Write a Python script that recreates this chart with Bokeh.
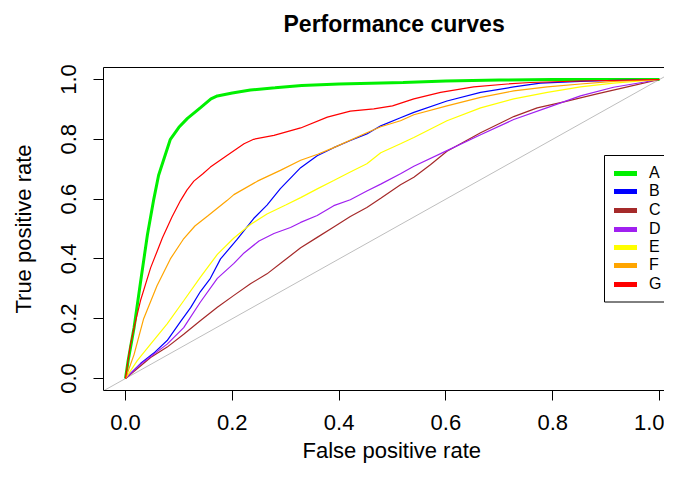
from bokeh.plotting import figure
from bokeh.models import (Range1d, LinearAxis, FixedTicker, Legend, LegendItem, Slope,
                          ColumnDataSource, Title, BoxAnnotation)
from bokeh.embed import file_html
from bokeh.resources import INLINE

# ---- data ----
series_names = ["A", "B", "C", "D", "E", "F", "G"]
series_colors = ["#00F000", "#0000FF", "#A52A2A", "#A020F0", "#FFFF00", "#FFA500", "#FF0000"]

fpr_A = [0, 0.005, 0.01, 0.016, 0.028, 0.041, 0.053, 0.062, 0.073, 0.084, 0.1, 0.116, 0.14, 0.16, 0.172, 0.2, 0.234, 0.28, 0.33, 0.4, 0.52, 0.6, 0.7, 0.8, 1.0]
tpr_A = [0, 0.06, 0.11, 0.17, 0.32, 0.48, 0.60, 0.68, 0.74, 0.80, 0.84, 0.87, 0.905, 0.935, 0.945, 0.955, 0.965, 0.972, 0.98, 0.985, 0.99, 0.995, 0.998, 1.0, 1.0]

fpr_B = [0, 0.028, 0.053, 0.078, 0.103, 0.122, 0.14, 0.159, 0.178, 0.209, 0.24, 0.265, 0.29, 0.328, 0.359, 0.39, 0.42, 0.452, 0.478, 0.515, 0.54, 0.602, 0.665, 0.727, 0.777, 0.852, 0.9, 1.0]
tpr_B = [0, 0.05, 0.085, 0.127, 0.19, 0.237, 0.29, 0.335, 0.40, 0.465, 0.535, 0.58, 0.635, 0.705, 0.745, 0.772, 0.795, 0.818, 0.845, 0.872, 0.89, 0.928, 0.957, 0.975, 0.988, 0.994, 0.996, 1.0]

fpr_C = [0, 0.047, 0.078, 0.109, 0.14, 0.172, 0.203, 0.234, 0.265, 0.296, 0.328, 0.359, 0.39, 0.421, 0.452, 0.478, 0.515, 0.54, 0.571, 0.602, 0.665, 0.727, 0.771, 0.821, 0.883, 0.946, 1.0]
tpr_C = [0, 0.07, 0.105, 0.148, 0.193, 0.238, 0.278, 0.317, 0.35, 0.393, 0.437, 0.472, 0.507, 0.542, 0.572, 0.603, 0.648, 0.673, 0.715, 0.76, 0.822, 0.876, 0.905, 0.925, 0.952, 0.978, 1.0]

fpr_D = [0, 0.028, 0.078, 0.109, 0.14, 0.172, 0.203, 0.222, 0.25, 0.278, 0.309, 0.328, 0.359, 0.39, 0.421, 0.452, 0.478, 0.515, 0.54, 0.602, 0.665, 0.727, 0.79, 0.852, 0.914, 1.0]
tpr_D = [0, 0.048, 0.115, 0.17, 0.255, 0.335, 0.385, 0.42, 0.46, 0.485, 0.505, 0.522, 0.545, 0.578, 0.598, 0.627, 0.65, 0.685, 0.71, 0.762, 0.815, 0.866, 0.906, 0.945, 0.974, 1.0]

fpr_E = [0, 0.022, 0.047, 0.078, 0.109, 0.14, 0.172, 0.203, 0.234, 0.265, 0.3, 0.328, 0.36, 0.39, 0.42, 0.452, 0.478, 0.515, 0.54, 0.602, 0.665, 0.727, 0.79, 0.852, 0.914, 1.0]
tpr_E = [0, 0.06, 0.115, 0.183, 0.26, 0.338, 0.415, 0.47, 0.515, 0.55, 0.58, 0.605, 0.635, 0.662, 0.69, 0.718, 0.755, 0.785, 0.806, 0.862, 0.905, 0.935, 0.957, 0.975, 0.988, 1.0]

fpr_F = [0, 0.016, 0.034, 0.059, 0.084, 0.108, 0.13, 0.155, 0.19, 0.203, 0.247, 0.29, 0.328, 0.36, 0.39, 0.452, 0.478, 0.515, 0.54, 0.602, 0.665, 0.727, 0.79, 0.852, 0.914, 1.0]
tpr_F = [0, 0.08, 0.2, 0.31, 0.40, 0.465, 0.51, 0.545, 0.595, 0.615, 0.66, 0.696, 0.73, 0.75, 0.772, 0.822, 0.842, 0.862, 0.882, 0.912, 0.94, 0.962, 0.975, 0.985, 0.994, 1.0]

fpr_G = [0, 0.003, 0.009, 0.016, 0.028, 0.047, 0.058, 0.069, 0.087, 0.103, 0.115, 0.128, 0.145, 0.159, 0.19, 0.222, 0.24, 0.278, 0.328, 0.378, 0.421, 0.465, 0.5, 0.54, 0.59, 0.652, 0.715, 0.758, 0.85, 1.0]
tpr_G = [0, 0.04, 0.11, 0.17, 0.26, 0.37, 0.42, 0.47, 0.54, 0.595, 0.63, 0.66, 0.685, 0.707, 0.746, 0.785, 0.80, 0.813, 0.838, 0.874, 0.894, 0.902, 0.912, 0.935, 0.957, 0.975, 0.985, 0.99, 0.995, 1.0]

series_fpr = [fpr_A, fpr_B, fpr_C, fpr_D, fpr_E, fpr_F, fpr_G]
series_tpr = [tpr_A, tpr_B, tpr_C, tpr_D, tpr_E, tpr_F, tpr_G]

tick_values = [0.0, 0.2, 0.4, 0.6, 0.8, 1.0]
tick_labels = ["0.0", "0.2", "0.4", "0.6", "0.8", "1.0"]

FONT = "Liberation Sans"

p = figure(width=664, height=465,
           x_range=Range1d(-0.0412, 1.0094), y_range=Range1d(-0.0401, 1.0401),
           output_backend="svg", toolbar_location=None,
           min_border_left=103, min_border_right=0, min_border_top=67, min_border_bottom=75,
           y_axis_label="True positive rate")
p.outline_line_color = None
p.grid.visible = False
p.background_fill_color = "white"
p.border_fill_color = "white"

p.title.text = "Performance curves"
p.title.text_font = FONT
p.title.text_font_size = "23px"
p.title.text_font_style = "bold"
p.title.text_color = "black"
p.title.align = "left"
p.title.offset = 180
p.title.standoff = 0

for ax in (p.xaxis[0], p.yaxis[0]):
    ax.ticker = FixedTicker(ticks=tick_values)
    ax.major_label_overrides = {v: s for v, s in zip(tick_values, tick_labels)}
    ax.major_label_text_font = FONT
    ax.major_label_text_font_size = "22px"
    ax.major_label_text_color = "black"
    ax.axis_label_text_font = FONT
    ax.axis_label_text_font_size = "22px"
    ax.axis_label_text_font_style = "normal"
    ax.axis_label_text_color = "black"
    ax.axis_line_color = "black"
    ax.major_tick_line_color = "black"
    ax.major_tick_in = 0
    ax.major_tick_out = 10
    ax.minor_tick_line_color = None

p.xaxis[0].major_label_standoff = 14
p.yaxis[0].major_label_orientation = "vertical"
p.yaxis[0].major_label_standoff = 17
p.yaxis[0].axis_label_standoff = 23

# top edge of the box (R's box()); its invisible tick leaves room under the title
top_axis = LinearAxis(ticker=FixedTicker(ticks=[0.5]), axis_line_color="black",
                      major_tick_out=31, major_tick_in=0, minor_tick_out=0, minor_tick_in=0,
                      major_tick_line_color=None, major_label_standoff=0,
                      major_label_overrides={0.5: ""}, major_label_text_font_size="0px")
p.add_layout(top_axis, "above")

# x axis title placed as a below-title so it can be positioned like R's
xlab = Title(text="False positive rate", text_font=FONT, text_font_size="22px",
             text_font_style="normal", text_color="black", align="left", offset=199,
             standoff=6, vertical_align="bottom")
p.add_layout(xlab, "below")

diag = Slope(gradient=1, y_intercept=0, line_color="#BEBEBE", line_width=1, level="underlay")
p.add_layout(diag)

widths = [3, 1.2, 1.2, 1.2, 1.2, 1.2, 1.2]
keys = []
for name, col, xs, ys, w in zip(series_names, series_colors, series_fpr, series_tpr, widths):
    src = ColumnDataSource(data=dict(x=xs, y=ys))
    p.line("x", "y", source=src, line_color=col, line_width=w)
    key = p.line("x", "y", source=src, line_color=col, line_width=5, line_cap="round", visible=False)
    keys.append(key)

# legend frame (screen units, relative to the plot frame)
LEG_LEFT, LEG_BOTTOM, LEG_TOP = 501, 88.5, 235
legend_box = BoxAnnotation(left=LEG_LEFT, right=LEG_LEFT + 120, bottom=LEG_BOTTOM, top=LEG_TOP,
                           left_units="screen", right_units="screen",
                           bottom_units="screen", top_units="screen",
                           fill_color="white", fill_alpha=1.0,
                           line_color="black", line_width=1, line_alpha=1.0)
p.add_layout(legend_box)

# one legend row per series, rows spaced like R's legend
ROW_STEP = (LEG_TOP - LEG_BOTTOM - 17) / len(series_names)
ROW_H = 18.5
for i, (name, key) in enumerate(zip(series_names, keys)):
    row_center = LEG_TOP - 8.5 - ROW_STEP * (i + 0.5)
    lg = Legend(items=[LegendItem(label=name, renderers=[key])],
                location=(LEG_LEFT + 10, int(round(row_center - ROW_H / 2))),
                orientation="vertical", border_line_color=None,
                background_fill_alpha=0.0, padding=0, spacing=0, margin=0,
                glyph_width=23, glyph_height=14, label_height=14, label_standoff=12,
                label_text_font=FONT, label_text_font_size="16px",
                label_text_color="black", click_policy="none")
    p.add_layout(lg, "center")

open("out.html", "w").write(file_html(p, INLINE))
